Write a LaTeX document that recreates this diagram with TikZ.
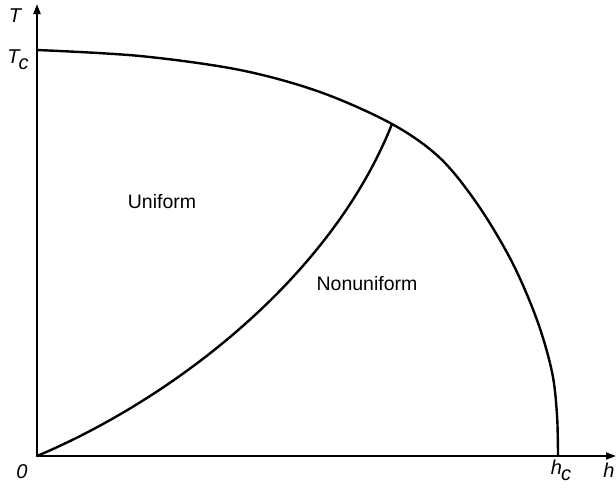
\documentclass[tikz,border=0pt]{standalone}
\usepackage{fontspec}
\setmainfont{Liberation Sans}
\usetikzlibrary{arrows.meta}
\tikzset{
  axis/.style={line width=2pt,-{Triangle[length=10pt,width=7pt]}},
  curve/.style={line width=2.4pt,line cap=round,line join=round},
  region/.style={font=\fontsize{19.5}{22}\selectfont},
  axlabel/.style={font=\fontsize{20}{22}\selectfont\itshape}
}
\begin{document}
\begin{tikzpicture}[x=1pt,y=-1pt]
\useasboundingbox (0,0) rectangle (616,490);
\coordinate (O) at (37,456);
\coordinate (Ytip) at (37,4);
\coordinate (Xtip) at (616,456);
\coordinate (Tc) at (37,50);
\coordinate (J) at (392,124);
\coordinate (hc) at (558,456);
\draw[axis] (O) -- (Ytip);
\draw[axis] (O) -- (Xtip);
\draw[curve] plot[smooth,tension=0.55] coordinates {(Tc) (140,56) (240,70) (320,92) (J) (440,158) (478,205) (512,262) (537,320) (552,372) (557,415) (hc)};
\draw[curve] (O) .. controls (170,400) and (330,280) .. (J);
\node[region] (uni) at (162,202) {Uniform};
\node[region] (non) at (367,284) {Nonuniform};
\node[axlabel] (lT) at (15,16) {T};
\node[axlabel] (lTc) at (18,60) {T\kern-1pt\raisebox{-6pt}{c}};
\node[axlabel] (l0) at (22,472) {0};
\node[axlabel] (lhc) at (561,470) {h\kern-1pt\raisebox{-6pt}{c}};
\node[axlabel] (lh) at (609,470) {h};
\end{tikzpicture}
\end{document}
